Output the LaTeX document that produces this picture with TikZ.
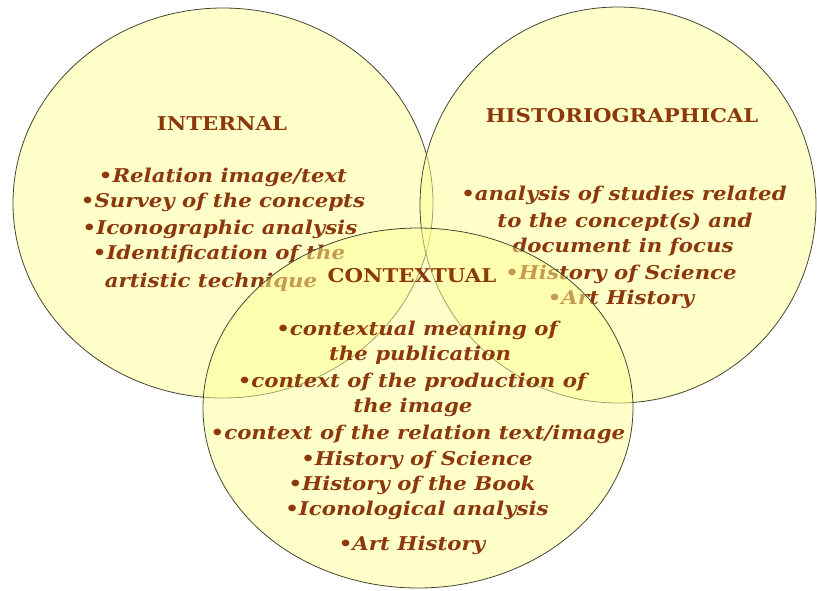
\documentclass[tikz,border=0pt]{standalone}
\usepackage{fontspec}
\setmainfont{DejaVu Serif}[FakeStretch=1.12]
\definecolor{ringfill}{RGB}{255,255,150}
\definecolor{ringline}{RGB}{70,70,50}
\definecolor{ink}{RGB}{140,56,12}
\begin{document}
\begin{tikzpicture}[x=1pt,y=-1pt,
  ring/.style={draw=ringline, line width=0.8pt, fill=ringfill, fill opacity=0.5},
  head/.style={text=ink, font=\fontsize{19}{22}\selectfont\bfseries, inner sep=0pt, anchor=base},
  item/.style={text=ink, font=\fontsize{19}{22}\selectfont\bfseries\itshape, inner sep=0pt, anchor=base}]
\useasboundingbox (0,0) rectangle (817,590);

% left set: internal analysis
\draw[ring] (223,203) ellipse [x radius=210pt, y radius=195pt];
\node[head] (ihead) at (222,130) {INTERNAL};
\node[item] (i1) at (223,182) {\textbullet Relation image/text};
\node[item] (i2) at (223,207) {\textbullet Survey of the concepts};
\node[item] (i3) at (220,234) {\textbullet Iconographic analysis};
\node[item] (i4) at (219,259) {\textbullet Identification of the};
\node[item] (i5) at (211,287) {artistic technique};

% right set: historiographical analysis
\draw[ring] (618,205) ellipse [x radius=198pt, y radius=198pt];
\node[head] (hhead) at (622,122) {HISTORIOGRAPHICAL};
\node[item] (h1) at (624,200) {\textbullet analysis of studies related};
\node[item] (h2) at (625,227) {to the concept(s) and};
\node[item] (h3) at (623,252) {document in focus};
\node[item] (h4) at (621,279) {\textbullet History of Science};
\node[item] (h5) at (621,304) {\textbullet Art History};

% bottom set: contextual analysis
\draw[ring] (418,408) ellipse [x radius=215pt, y radius=180pt];
\node[head] (chead) at (412,282) {CONTEXTUAL};
\node[item] (c1) at (417,335) {\textbullet contextual meaning of};
\node[item] (c2) at (420,360) {the publication};
\node[item] (c3) at (412,387) {\textbullet context of the production of};
\node[item] (c4) at (413,412) {the image};
\node[item] (c5) at (418,439) {\textbullet context of the relation text/image};
\node[item] (c6) at (417,465) {\textbullet History of Science};
\node[item] (c7) at (412,490) {\textbullet History of the Book};
\node[item] (c8) at (417,515) {\textbullet Iconological analysis};
\node[item] (c9) at (412,550) {\textbullet Art History};
\end{tikzpicture}
\end{document}
